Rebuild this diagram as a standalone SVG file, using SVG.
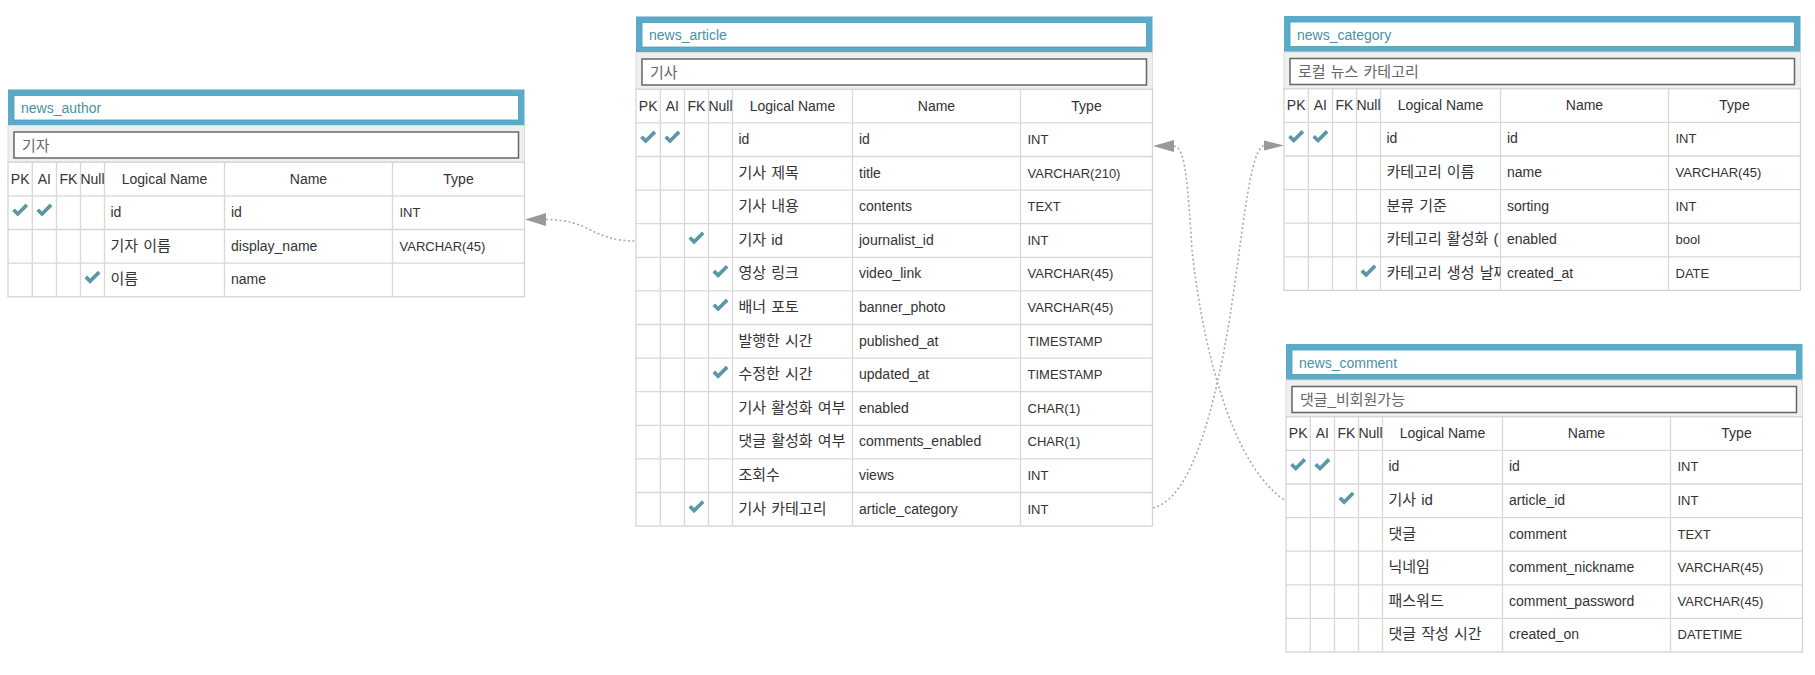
<svg xmlns="http://www.w3.org/2000/svg" xmlns:xlink="http://www.w3.org/1999/xlink" width="1815" height="675" viewBox="0 0 1815 675">
<style>
text{font-family:"Liberation Sans","Noto Sans CJK KR",Arial,sans-serif;}
.t{font-size:14px;fill:#4a91a3;}
.c{font-size:15px;fill:#666;word-spacing:1px;}
.h{font-size:14px;fill:#333;text-anchor:middle;}
.d{font-size:14px;fill:#333;}
.k{font-size:15px;fill:#333;word-spacing:1px;}
.ty{font-size:13px;fill:#333;}
.blue{fill:#5aabc8;}
.tbox{fill:#fff;stroke:#4f9ab5;stroke-width:0.8;}
.band{fill:#efefef;stroke:#dcdcdc;stroke-width:1;}
.cbox{fill:#fff;stroke:#666;stroke-width:1.5;}
.body{fill:#fff;stroke:#d4d4d4;stroke-width:1.3;}
.grid{fill:none;stroke:#d8d8d8;stroke-width:1.3;}
.chk{fill:#5b97a6;}
.conn{fill:none;stroke:#aaa;stroke-width:1.6;stroke-dasharray:2 2.5;}
.arr{fill:#999;}
</style>
<defs>
<path id="chk" class="chk" d="M0,7.8 L2.6,5.2 L5.6,8.2 L13.4,0.4 L16,3 L5.6,13.4 Z"/>
<clipPath id="clipLN"><rect x="96.5" y="0" width="120" height="700"/></clipPath>
</defs>

<g id="connectors">
<path class="conn" d="M546,219.5 C591,219.5 591,241 636,241"/>
<polygon class="arr" points="525,219.5 546,213 546,226"/>
<path class="conn" d="M1174,146 C1186,146 1188,190 1192,250 C1204,360 1236,470 1286,501"/>
<polygon class="arr" points="1153,146 1174,140 1174,152"/>
<path class="conn" d="M1153,508 C1185,500 1205,440 1220,370 C1240,280 1246,150 1264,145.5"/>
<polygon class="arr" points="1284,145.5 1264,140.5 1264,150.5"/>
</g>

<g id="news_author" transform="translate(8,89.5)">
<rect class="blue" x="0" y="0" width="516.5" height="36"/>
<rect class="tbox" x="6" y="6" width="504.5" height="24.5"/>
<text class="t" x="13" y="23.5">news_author</text>
<rect class="band" x="0" y="36" width="516.5" height="36.8"/>
<rect class="cbox" x="6" y="42.5" width="504.5" height="26"/>
<text class="c" x="14" y="61">기자</text>
<rect class="body" x="0" y="72.8" width="516.5" height="134.4"/>
<path class="grid" d="M0,106.4H516.5M0,140H516.5M0,173.6H516.5M24.3,72.8V207.2M48.5,72.8V207.2M72.5,72.8V207.2M96.5,72.8V207.2M216.5,72.8V207.2M384.5,72.8V207.2"/>
<text class="h" x="12.15" y="94.3">PK</text><text class="h" x="36.4" y="94.3">AI</text><text class="h" x="60.5" y="94.3">FK</text><text class="h" x="84.5" y="94.3">Null</text><text class="h" x="156.5" y="94.3">Logical Name</text><text class="h" x="300.5" y="94.3">Name</text><text class="h" x="450.5" y="94.3">Type</text>
<use xlink:href="#chk" x="4.15" y="113.7"/><use xlink:href="#chk" x="28.4" y="113.7"/>
<text class="d" x="102.5" y="127.4">id</text><text class="d" x="223" y="127.4">id</text><text class="ty" x="391.5" y="127.4">INT</text>
<text class="k" x="102.5" y="161">기자 이름</text><text class="d" x="223" y="161">display_name</text><text class="ty" x="391.5" y="161">VARCHAR(45)</text>
<use xlink:href="#chk" x="76.5" y="180.9"/>
<text class="k" x="102.5" y="194.6">이름</text><text class="d" x="223" y="194.6">name</text>
</g>

<g id="news_article" transform="translate(636,16.5)">
<rect class="blue" x="0" y="0" width="516.5" height="36"/>
<rect class="tbox" x="6" y="6" width="504.5" height="24.5"/>
<text class="t" x="13" y="23.5">news_article</text>
<rect class="band" x="0" y="36" width="516.5" height="36.8"/>
<rect class="cbox" x="6" y="42.5" width="504.5" height="26"/>
<text class="c" x="14" y="61">기사</text>
<rect class="body" x="0" y="72.8" width="516.5" height="436.8"/>
<path class="grid" d="M0,106.4H516.5M0,140H516.5M0,173.6H516.5M0,207.2H516.5M0,240.8H516.5M0,274.4H516.5M0,308H516.5M0,341.6H516.5M0,375.2H516.5M0,408.8H516.5M0,442.4H516.5M0,476H516.5M24.3,72.8V509.6M48.5,72.8V509.6M72.5,72.8V509.6M96.5,72.8V509.6M216.5,72.8V509.6M384.5,72.8V509.6"/>
<text class="h" x="12.15" y="94.3">PK</text><text class="h" x="36.4" y="94.3">AI</text><text class="h" x="60.5" y="94.3">FK</text><text class="h" x="84.5" y="94.3">Null</text><text class="h" x="156.5" y="94.3">Logical Name</text><text class="h" x="300.5" y="94.3">Name</text><text class="h" x="450.5" y="94.3">Type</text>
<use xlink:href="#chk" x="4.15" y="113.7"/><use xlink:href="#chk" x="28.4" y="113.7"/>
<text class="d" x="102.5" y="127.4">id</text><text class="d" x="223" y="127.4">id</text><text class="ty" x="391.5" y="127.4">INT</text>
<text class="k" x="102.5" y="161">기사 제목</text><text class="d" x="223" y="161">title</text><text class="ty" x="391.5" y="161">VARCHAR(210)</text>
<text class="k" x="102.5" y="194.6">기사 내용</text><text class="d" x="223" y="194.6">contents</text><text class="ty" x="391.5" y="194.6">TEXT</text>
<use xlink:href="#chk" x="52.5" y="214.5"/>
<text class="k" x="102.5" y="228.2">기자 id</text><text class="d" x="223" y="228.2">journalist_id</text><text class="ty" x="391.5" y="228.2">INT</text>
<use xlink:href="#chk" x="76.5" y="248.1"/>
<text class="k" x="102.5" y="261.8">영상 링크</text><text class="d" x="223" y="261.8">video_link</text><text class="ty" x="391.5" y="261.8">VARCHAR(45)</text>
<use xlink:href="#chk" x="76.5" y="281.7"/>
<text class="k" x="102.5" y="295.4">배너 포토</text><text class="d" x="223" y="295.4">banner_photo</text><text class="ty" x="391.5" y="295.4">VARCHAR(45)</text>
<text class="k" x="102.5" y="329">발행한 시간</text><text class="d" x="223" y="329">published_at</text><text class="ty" x="391.5" y="329">TIMESTAMP</text>
<use xlink:href="#chk" x="76.5" y="348.9"/>
<text class="k" x="102.5" y="362.6">수정한 시간</text><text class="d" x="223" y="362.6">updated_at</text><text class="ty" x="391.5" y="362.6">TIMESTAMP</text>
<text class="k" x="102.5" y="396.2">기사 활성화 여부</text><text class="d" x="223" y="396.2">enabled</text><text class="ty" x="391.5" y="396.2">CHAR(1)</text>
<text class="k" x="102.5" y="429.8">댓글 활성화 여부</text><text class="d" x="223" y="429.8">comments_enabled</text><text class="ty" x="391.5" y="429.8">CHAR(1)</text>
<text class="k" x="102.5" y="463.4">조회수</text><text class="d" x="223" y="463.4">views</text><text class="ty" x="391.5" y="463.4">INT</text>
<use xlink:href="#chk" x="52.5" y="483.3"/>
<text class="k" x="102.5" y="497">기사 카테고리</text><text class="d" x="223" y="497">article_category</text><text class="ty" x="391.5" y="497">INT</text>
</g>

<g id="news_category" transform="translate(1284,16)">
<rect class="blue" x="0" y="0" width="516.5" height="36"/>
<rect class="tbox" x="6" y="6" width="504.5" height="24.5"/>
<text class="t" x="13" y="23.5">news_category</text>
<rect class="band" x="0" y="36" width="516.5" height="36.8"/>
<rect class="cbox" x="6" y="42.5" width="504.5" height="26"/>
<text class="c" x="14" y="61">로컬 뉴스 카테고리</text>
<rect class="body" x="0" y="72.8" width="516.5" height="201.6"/>
<path class="grid" d="M0,106.4H516.5M0,140H516.5M0,173.6H516.5M0,207.2H516.5M0,240.8H516.5M24.3,72.8V274.4M48.5,72.8V274.4M72.5,72.8V274.4M96.5,72.8V274.4M216.5,72.8V274.4M384.5,72.8V274.4"/>
<text class="h" x="12.15" y="94.3">PK</text><text class="h" x="36.4" y="94.3">AI</text><text class="h" x="60.5" y="94.3">FK</text><text class="h" x="84.5" y="94.3">Null</text><text class="h" x="156.5" y="94.3">Logical Name</text><text class="h" x="300.5" y="94.3">Name</text><text class="h" x="450.5" y="94.3">Type</text>
<use xlink:href="#chk" x="4.15" y="113.7"/><use xlink:href="#chk" x="28.4" y="113.7"/>
<text class="d" x="102.5" y="127.4">id</text><text class="d" x="223" y="127.4">id</text><text class="ty" x="391.5" y="127.4">INT</text>
<text class="k" x="102.5" y="161">카테고리 이름</text><text class="d" x="223" y="161">name</text><text class="ty" x="391.5" y="161">VARCHAR(45)</text>
<text class="k" x="102.5" y="194.6">분류 기준</text><text class="d" x="223" y="194.6">sorting</text><text class="ty" x="391.5" y="194.6">INT</text>
<text class="k" x="102.5" y="228.2" clip-path="url(#clipLN)">카테고리 활성화 (</text><text class="d" x="223" y="228.2">enabled</text><text class="ty" x="391.5" y="228.2">bool</text>
<use xlink:href="#chk" x="76.5" y="248.1"/>
<text class="k" x="102.5" y="261.8" clip-path="url(#clipLN)">카테고리 생성 날짜</text><text class="d" x="223" y="261.8">created_at</text><text class="ty" x="391.5" y="261.8">DATE</text>
</g>

<g id="news_comment" transform="translate(1286,344)">
<rect class="blue" x="0" y="0" width="516.5" height="36"/>
<rect class="tbox" x="6" y="6" width="504.5" height="24.5"/>
<text class="t" x="13" y="23.5">news_comment</text>
<rect class="band" x="0" y="36" width="516.5" height="36.8"/>
<rect class="cbox" x="6" y="42.5" width="504.5" height="26"/>
<text class="c" x="14" y="61">댓글_비회원가능</text>
<rect class="body" x="0" y="72.8" width="516.5" height="235.2"/>
<path class="grid" d="M0,106.4H516.5M0,140H516.5M0,173.6H516.5M0,207.2H516.5M0,240.8H516.5M0,274.4H516.5M24.3,72.8V308M48.5,72.8V308M72.5,72.8V308M96.5,72.8V308M216.5,72.8V308M384.5,72.8V308"/>
<text class="h" x="12.15" y="94.3">PK</text><text class="h" x="36.4" y="94.3">AI</text><text class="h" x="60.5" y="94.3">FK</text><text class="h" x="84.5" y="94.3">Null</text><text class="h" x="156.5" y="94.3">Logical Name</text><text class="h" x="300.5" y="94.3">Name</text><text class="h" x="450.5" y="94.3">Type</text>
<use xlink:href="#chk" x="4.15" y="113.7"/><use xlink:href="#chk" x="28.4" y="113.7"/>
<text class="d" x="102.5" y="127.4">id</text><text class="d" x="223" y="127.4">id</text><text class="ty" x="391.5" y="127.4">INT</text>
<use xlink:href="#chk" x="52.5" y="147.3"/>
<text class="k" x="102.5" y="161">기사 id</text><text class="d" x="223" y="161">article_id</text><text class="ty" x="391.5" y="161">INT</text>
<text class="k" x="102.5" y="194.6">댓글</text><text class="d" x="223" y="194.6">comment</text><text class="ty" x="391.5" y="194.6">TEXT</text>
<text class="k" x="102.5" y="228.2">닉네임</text><text class="d" x="223" y="228.2">comment_nickname</text><text class="ty" x="391.5" y="228.2">VARCHAR(45)</text>
<text class="k" x="102.5" y="261.8">패스워드</text><text class="d" x="223" y="261.8">comment_password</text><text class="ty" x="391.5" y="261.8">VARCHAR(45)</text>
<text class="k" x="102.5" y="295.4">댓글 작성 시간</text><text class="d" x="223" y="295.4">created_on</text><text class="ty" x="391.5" y="295.4">DATETIME</text>
</g>
</svg>
